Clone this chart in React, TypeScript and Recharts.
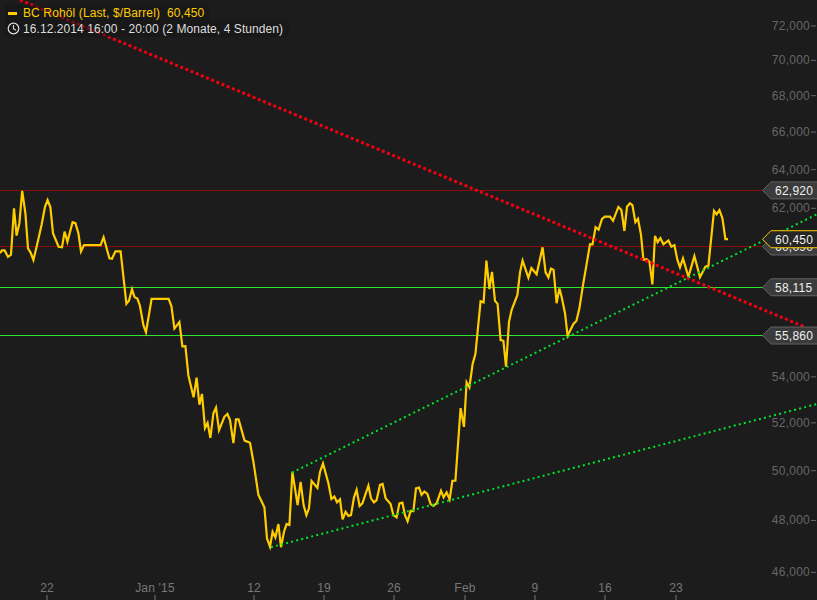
import React from "react";
import { ComposedChart, Line, XAxis, YAxis, ReferenceLine } from "recharts";

const W = 817;
const H = 600;
const FONT = '"Liberation Sans", Arial, sans-serif';

const time = [
  0, 1, 2.3, 4, 5.5, 7, 8.3, 9.7, 11.1, 12.7, 14, 15.3, 16.7, 18.3, 20.8, 22.5, 23.8, 25.2, 26.5, 29.3, 31, 32.3, 33.7, 36.3, 37.7, 39.2, 40.5, 42, 50.3, 51.8,
  54.7, 56, 57.7, 60.3, 63.2, 64.5, 66, 67.3, 68.7, 70, 71.7, 73, 75.8, 84.3, 85.7, 87.2, 89.7, 91.2, 92.7, 94.2, 96.8, 98.3, 99.7, 101, 102.5, 103.8, 105.2, 106.7, 108, 109.5,
  112.2, 113.7, 115, 116.7, 118, 119.3, 120.8, 122.3, 125, 126.7, 129.2, 132.2, 133.5, 135, 136.3, 137.7, 139.2, 140.5, 142, 143.3, 144.7, 146.2, 148.8, 150.3, 151.8, 153.2, 154.5, 155.8, 158.7, 160,
  161.5, 164.2, 165.7, 167.2, 168.5, 170, 171.3, 172.8, 174.2, 175.5, 177, 178.3, 179.8, 181.2, 184.2, 185.5, 187, 188.3, 190, 191.3, 192.8, 195.3, 196.7, 198.3, 199.7, 201.2, 202.5, 203.8, 205.3, 206.7,
  208, 209.5, 210.8, 212.2, 213.7, 215.3, 216.7, 218.3, 220.5, 221.8, 223.3, 224.8, 226.2, 227.7, 230.3, 232, 233.3, 234.7, 236.3, 237.7, 240.3, 241.8, 243.2, 244.7, 246, 247.5, 248.8, 250.3, 251.7, 253,
  254.5, 255.8, 258.7, 260, 261.3, 264.2, 265.7, 268.3, 271.3, 272.8, 274.2, 275.5, 276.8, 278.3, 279.7, 280.8, 282.5, 283.8, 286.7, 288.2, 289.7, 291.3, 295, 296.3, 297.8, 299.3, 301, 302.5, 305, 306.5,
  309.2, 310.7, 312.2, 313.5, 315, 316.2, 317.7, 319, 320.5, 321.7, 323.3, 324.7, 326.2, 327.5, 328.8, 330.2, 331.7, 334.2, 335.7, 337.2, 338.7, 340, 341.5, 344.2, 347.2, 350, 352.7, 354.2, 357, 358.3,
  359.7, 361.2, 362.7, 364,
];

const price = [
  59760, 59900, 59900, 59580, 59690, 62000, 60630, 61250, 62890, 61750, 60000, 59790, 59430, 60080, 61170, 62080, 62420, 62050, 60750, 60080, 60050, 60830, 60320, 61300, 61250, 60750, 59850, 60160, 60160, 60550,
  59510, 59490, 59850, 59850, 57330, 57480, 58020, 57640, 57580, 57230, 56340, 56010, 57560, 57560, 57230, 56180, 56480, 55370, 55380, 54060, 53100, 53960, 52780, 53250, 51780, 52000, 51360, 52410, 52650, 51690,
  52260, 52380, 52120, 51140, 52150, 52150, 51690, 51250, 51160, 50370, 49020, 48520, 47300, 46980, 47560, 47340, 47860, 46960, 47560, 47860, 47820, 49950, 48610, 49540, 48610, 48210, 48480, 49580, 49300, 49950,
  50300, 49490, 48850, 48950, 48720, 48840, 48040, 48340, 48180, 48210, 48920, 49220, 48570, 48680, 49390, 48880, 48720, 48810, 49420, 49460, 48880, 48650, 48210, 48120, 48680, 48710, 48210, 47970, 48380, 48370,
  49280, 49310, 49020, 49150, 49060, 48650, 48580, 48680, 49180, 48920, 49120, 48840, 49590, 49590, 52630, 51830, 53760, 53540, 54570, 55020, 57450, 57400, 59400, 58030, 58850, 57470, 57330, 55650, 55620, 54450,
  56490, 57040, 57750, 58830, 59400, 58570, 59040, 58740, 60050, 58830, 58590, 59010, 58950, 57360, 58060, 57670, 56890, 55850, 56390, 56530, 57120, 58100, 60210, 60200, 61050, 60930, 61470, 61580, 61580, 61370,
  62070, 61910, 60860, 62080, 62260, 62170, 61300, 61470, 60670, 59440, 59470, 59350, 58250, 60620, 60300, 60500, 60200, 60390, 60080, 60160, 59430, 59070, 59510, 58620, 59620, 58600, 59100, 59150, 61870, 61700,
  61910, 61500, 60450, 60450,
];

const priceData = time.map((t, i) => ({ t, p: price[i] }));

const redTrend = [
  { t: 10, p: 73550 },
  { t: 402.5, p: 56250 },
];
const upperGreenTrend = [
  { t: 146, p: 49920 },
  { t: 408.5, p: 61700 },
];
const lowerGreenTrend = [
  { t: 135.5, p: 46960 },
  { t: 408.5, p: 52810 },
];

const yTicks = [72000, 70000, 68000, 66000, 64000, 62000, 54000, 52000, 50000, 48000, 46000];
const xTicks = [23.5, 77.5, 127, 162, 197, 232.5, 267.5, 302.5, 338];
const xLabels = ["22", "Jan '15", "12", "19", "26", "Feb", "9", "16", "23"];

const levels = [
  { value: 60090, label: "60,090", color: "#8a0a0a" },
  { value: 62920, label: "62,920", color: "#8a0a0a" },
  { value: 58115, label: "58,115", color: "#2fe52f" },
  { value: 55860, label: "55,860", color: "#2fe52f" },
];
const lastValue = 60450;
const lastLabel = "60,450";

const fmtNum = (v: number) => v.toLocaleString("en-US");

function Tag({ y, label, active }: { y: number; label: string; active?: boolean }) {
  const top = y - 8.5;
  const bottom = y + 8.5;
  return (
    <g>
      <polygon
        points={`${W + 2},${top} 771,${top} 762.5,${y} 771,${bottom} ${W + 2},${bottom}`}
        fill={active ? "#262626" : "#3b3b3b"}
        stroke={active ? "#ffcc00" : "#636363"}
        strokeWidth={1}
      />
      <text x={775} y={y + 4.5} fill="#f0f0f0" fontSize={12} letterSpacing={0.25} fontFamily={FONT}>
        {label}
      </text>
    </g>
  );
}

const YTick = (props: any) => {
  const { y, payload } = props;
  return (
    <g>
      <text x={810} y={y + 4} textAnchor="end" fill="#666666" fontSize={12} letterSpacing={0.25} fontFamily={FONT}>
        {fmtNum(payload.value)}
      </text>
      <line x1={811} x2={816} y1={y} y2={y} stroke="#666666" strokeWidth={1} />
    </g>
  );
};

const XTick = (props: any) => {
  const { x, payload } = props;
  const idx = xTicks.indexOf(payload.value);
  return (
    <g>
      <text x={x} y={592} textAnchor="middle" fill="#777777" fontSize={12} letterSpacing={0.2} fontFamily={FONT}>
        {xLabels[idx]}
      </text>
      <line x1={x} x2={x} y1={595} y2={600} stroke="#777777" strokeWidth={1} />
    </g>
  );
};

function Header() {
  const rowBg = "rgba(22,22,22,0.55)";
  return (
    <div style={{ position: "absolute", left: 5, top: 5, fontFamily: FONT, fontSize: 12, lineHeight: "16px", whiteSpace: "nowrap" }}>
      <div style={{ background: rowBg, width: 205, height: 16, position: "relative", color: "#ffcc00" }}>
        <span style={{ position: "absolute", left: 3, top: 7, width: 9, height: 3, background: "#ffcc00" }} />
        <span style={{ position: "absolute", left: 18, top: 0, whiteSpace: "pre", letterSpacing: 0.12 }}>BC Rohöl (Last, $/Barrel)  60,450</span>
      </div>
      <div style={{ background: rowBg, width: 284, height: 16, position: "relative", color: "#dddddd" }}>
        <svg width={13} height={13} style={{ position: "absolute", left: 1.5, top: 1 }} viewBox="0 0 13 13">
          <circle cx={6.5} cy={6.5} r={5.3} fill="none" stroke="#dddddd" strokeWidth={1.2} />
          <path d="M6.5 3 V6.8 L9 8.3" fill="none" stroke="#dddddd" strokeWidth={1.1} />
        </svg>
        <span style={{ position: "absolute", left: 18, top: 0, letterSpacing: 0.07 }}>16.12.2014 16:00 - 20:00 (2 Monate, 4 Stunden)</span>
      </div>
    </div>
  );
}

export default function App() {
  return (
    <div style={{ position: "absolute", left: 0, top: 0, width: W, height: H, background: "#1c1c1c", overflow: "hidden" }}>
      <ComposedChart width={W + 1} height={H + 1} margin={{ top: 0, right: 0, bottom: 0, left: 0 }}>
        <XAxis
          type="number"
          dataKey="t"
          domain={[0, 408.5]}
          ticks={xTicks}
          height={1}
          axisLine={false}
          tickLine={false}
          tick={XTick}
          interval={0}
          allowDataOverflow
        />
        <YAxis
          type="number"
          dataKey="p"
          orientation="right"
          scale="log"
          domain={[44970, 73550]}
          ticks={yTicks}
          width={1}
          axisLine={false}
          tickLine={false}
          tick={YTick}
          interval={0}
          allowDataOverflow
        />
        {levels.map((l) => (
          <ReferenceLine key={`line-${l.label}`} y={l.value} stroke={l.color} strokeWidth={1} shapeRendering="crispEdges" />
        ))}
        <Line data={priceData} dataKey="p" type="linear" stroke="#ffcc00" strokeWidth={2.2} dot={false} activeDot={false} isAnimationActive={false} />
        <Line data={redTrend} dataKey="p" type="linear" stroke="#f00010" strokeWidth={3} strokeDasharray="3 2.6" dot={false} activeDot={false} isAnimationActive={false} />
        <Line data={upperGreenTrend} dataKey="p" type="linear" stroke="#00e52a" strokeWidth={2} strokeDasharray="2 3.2" dot={false} activeDot={false} isAnimationActive={false} />
        <Line data={lowerGreenTrend} dataKey="p" type="linear" stroke="#00e52a" strokeWidth={2} strokeDasharray="2 3.2" dot={false} activeDot={false} isAnimationActive={false} />
        {levels.map((l) => (
          <ReferenceLine key={`tag-${l.label}`} y={l.value} stroke="none" label={(p: any) => <Tag y={p.viewBox.y} label={l.label} />} />
        ))}
        <ReferenceLine y={lastValue} stroke="none" label={(p: any) => <Tag y={p.viewBox.y} label={lastLabel} active />} />
      </ComposedChart>
      <Header />
    </div>
  );
}
